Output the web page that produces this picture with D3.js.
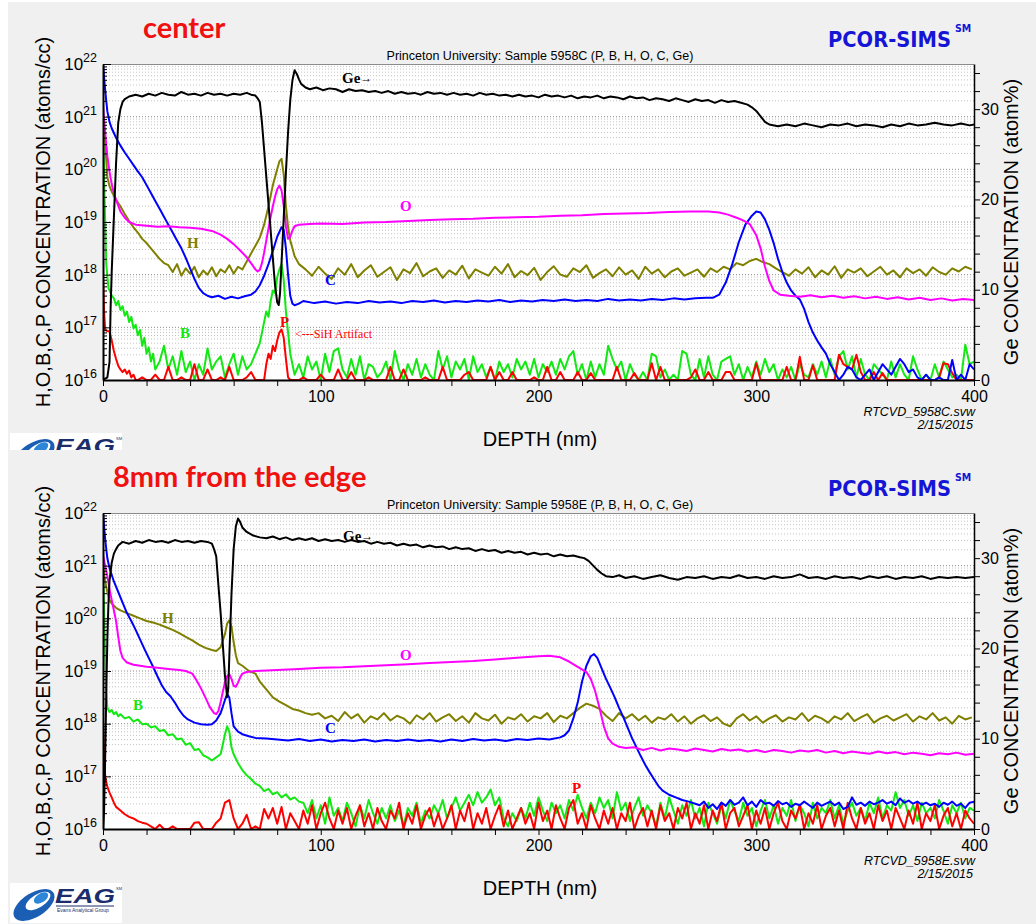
<!DOCTYPE html>
<html>
<head>
<meta charset="utf-8">
<title>sims-depth-profiles</title>
<style>
  * { margin: 0; padding: 0; }
  body { background: #fff; width: 1036px; height: 924px; overflow: hidden; }
  svg { display: block; font-family: "Liberation Sans", Arial, sans-serif; }
</style>
</head>
<body>
<svg id="svg" width="1036" height="924"></svg>
<script src="https://cdnjs.cloudflare.com/ajax/libs/d3/7.8.5/d3.min.js"></script>
<script>
// concentrations are log10(atoms/cc), Ge is atom %, depth in nm

// ---- center, sample 5958C ----
const centerGe = [[0,0],[2,0.3],[3,2],[3.5,8],[4,12],[5,18],[6,24],[7,28.5],[8,30],[9,30.8],[10,31.1],[12,31.4],[15,31.6],[18,31.4],[21,31.7],[24,31.5],[27,31.8],[30,31.6],[33,31.5],[36,31.9],[39,31.6],[42,31.7],[45,31.5],[48,31.8],[51,31.6],[54,31.7],[57,31.5],[60,31.7],[63,31.6],[66,31.8],[68,31.6],[70,31.5],[71,31.2],[72,30.8],[73,28.5],[74,25.5],[75,22.5],[76,19.5],[77,16.5],[78,13.5],[79,10.5],[80,8.6],[80.7,8.3],[81.3,9.6],[82,13],[83,18],[84,23],[85,27.5],[86,31],[87,33.2],[88,34.3],[89,33.9],[90,33.3],[91,32.8],[93,32.4],[95,32.2],[98,32.4],[101,32.1],[104,32.3],[107,32.2],[110,31.9],[113,32.2],[116,32.0],[119,32.1],[122,31.9],[125,32.0],[128,31.8],[131,32.0],[134,31.7],[137,31.9],[140,31.7],[143,31.8],[146,31.6],[149,31.9],[152,31.7],[155,31.8],[158,31.6],[161,31.8],[164,31.6],[167,31.7],[170,31.5],[173,31.8],[176,31.6],[179,31.7],[182,31.5],[185,31.6],[188,31.4],[191,31.6],[194,31.4],[197,31.5],[200,31.3],[203,31.6],[206,31.4],[209,31.5],[212,31.3],[215,31.5],[218,31.2],[221,31.4],[224,31.3],[227,31.5],[230,31.2],[233,31.4],[236,31.3],[239,31.1],[242,31.4],[245,31.2],[248,31.3],[251,31.0],[254,31.2],[257,31.1],[260,30.9],[263,31.2],[266,31.0],[269,30.8],[272,31.1],[275,30.9],[278,31.0],[281,30.7],[284,31.0],[287,30.8],[290,30.9],[293,30.7],[296,30.5],[298,30.2],[300,29.8],[302,29.2],[304,28.6],[306,28.3],[310,28.1],[314,28.3],[318,28.1],[322,28.4],[326,28.2],[330,28.0],[334,28.3],[338,28.2],[342,28.4],[346,28.1],[350,28.3],[354,28.2],[358,28.0],[362,28.3],[366,28.1],[370,28.4],[374,28.2],[378,28.3],[382,28.5],[386,28.3],[390,28.2],[394,28.4],[398,28.2],[400,28.3]];

const centerO = [[0,21.2],[1,20.7],[2,20.25],[3,19.95],[4,19.72],[5,19.55],[6,19.42],[8,19.2],[10,19.08],[12,19.0],[15,18.95],[20,18.93],[25,18.91],[30,18.92],[35,18.9],[40,18.89],[45,18.87],[50,18.83],[54,18.76],[57,18.68],[60,18.58],[63,18.46],[66,18.33],[68,18.22],[70,18.1],[71,18.06],[72,18.09],[73,18.22],[74,18.42],[75,18.65],[76,18.88],[77,19.1],[78,19.3],[79,19.48],[80,19.62],[81,19.69],[82,19.6],[83,19.3],[84,18.92],[85,18.68],[86,18.72],[87,18.84],[88,18.92],[90,18.95],[95,18.96],[100,18.97],[110,18.96],[120,18.99],[130,19.0],[140,19.02],[150,19.04],[160,19.05],[170,19.06],[180,19.08],[190,19.09],[200,19.1],[210,19.12],[220,19.13],[230,19.15],[240,19.16],[250,19.17],[260,19.19],[270,19.2],[278,19.2],[283,19.18],[287,19.14],[291,19.08],[294,19.03],[297,18.96],[300,18.75],[302,18.5],[304,18.15],[306,17.88],[308,17.7],[311,17.62],[315,17.6],[320,17.58],[325,17.61],[330,17.57],[335,17.6],[340,17.56],[345,17.59],[350,17.55],[355,17.58],[360,17.54],[365,17.57],[370,17.53],[375,17.56],[380,17.52],[385,17.55],[390,17.51],[395,17.54],[400,17.52]];

const centerHShape = [[0,21.0],[1,20.5],[2,19.85],[3,19.68],[4,19.58],[5,19.5],[6,19.42],[8,19.3],[10,19.15],[12,19.02],[14,18.9],[16,18.8],[18,18.68],[20,18.6],[22,18.5],[24,18.4],[26,18.3],[28,18.22],[30,18.18],[32,18.05],[34,18.2],[36,17.98],[38,18.12],[40,18.02],[42,18.15],[44,17.95],[46,18.08],[48,18.0],[50,18.14],[52,17.97],[54,18.1],[56,18.04],[58,18.18],[60,18.02],[62,18.15],[64,18.1],[66,18.25],[68,18.4],[70,18.55],[72,18.7],[74,18.95],[76,19.3],[78,19.7],[80,20.0],[81,20.15],[82,20.2],[83,19.9],[84,19.3],[85,18.9],[86,18.65],[87,18.5],[88,18.35],[90,18.2]];
// from 93 nm, every 3 nm
const centerHNoise = [18.1,17.98,18.15,18.02,17.92,18.12,18.0,18.2,17.95,18.08, 18.18,17.96,18.05,18.14,17.9,18.1,18.03,18.22,17.97,18.06, 18.12,17.94,18.08,18.0,18.17,17.93,18.1,18.04,17.98,18.15, 18.02,18.2,17.95,18.07,17.99,18.13,17.9,18.05,18.16,18.0, 17.96,18.12,18.05,18.18,17.94,18.03,18.1,17.97,18.14,18.0, 18.08,17.92,18.15,18.02,18.1,17.95,18.06,18.12,17.98,18.04, 18.1,17.96,18.12,18.05,18.15,18.1,18.22,18.18,18.26,18.3, 18.24,18.2,18.12,18.05,17.98,18.1,18.02,18.14,17.95,18.08, 18.0,18.16,17.94,18.1,18.04,18.12,17.97,18.06,18.15,18.0, 18.08,17.95,18.12,18.03,18.1,17.98,18.14,18.05,18.0,18.12, 18.06,18.15,18.1];

const centerCShape = [[0,22.0],[1,21.5],[2,21.1],[3,20.9],[4,20.78],[6,20.6],[8,20.45],[10,20.32],[12,20.2],[14,20.08],[16,19.96],[18,19.85],[20,19.7],[22,19.55],[24,19.4],[26,19.25],[28,19.1],[30,18.95],[32,18.8],[34,18.65],[36,18.5],[38,18.32],[40,18.12],[42,17.92],[44,17.75],[46,17.65],[48,17.6],[50,17.57],[53,17.6],[56,17.54],[59,17.58],[62,17.55],[65,17.59],[68,17.62],[70,17.68],[72,17.8],[74,17.98],[76,18.2],[78,18.45],[80,18.72],[82,18.9],[83,18.85],[84,18.5],[85,18.0],[86,17.6],[87,17.45],[88,17.42],[90,17.45]];
// from 92 nm, every 5 nm
const centerCMid = [17.5,17.46,17.49,17.45,17.48,17.46,17.5,17.47,17.49,17.46,17.5,17.48,17.51,17.47,17.5,17.48,17.51,17.49,17.52,17.48,17.51,17.49,17.52,17.5,17.53,17.5,17.52,17.5,17.54,17.51,17.53,17.51,17.54,17.52,17.55,17.53,17.55,17.56];
const centerCPeak = [[280,17.56],[283,17.62],[286,17.85],[289,18.2],[292,18.62],[295,18.95],[298,19.12],[300,19.2],[302,19.18],[304,19.05],[306,18.85],[308,18.6],[310,18.3],[312,18.05],[314,17.85],[316,17.7],[318,17.6],[320,17.53],[322,17.35],[324,17.1],[326,16.9],[328,16.75],[330,16.62],[332,16.5],[334,16.3],[336,16.15]];
// from 338 nm, every 2 nm
const centerCTail = [16.0,16.1,16.25,16.2,16.05,16.0,16.1,16.2,16.0,16.15,16.3,16.2,16.1,16.25,16.4,16.3,16.15,16.2,16.05,16.0,16.1,16.0,16.0,16.05,16.0,16.0,16.38,16.0,16.1,16.0,16.3,16.2];

const centerBShape = [[0,21.0],[0.7,19.5],[1.5,18.2],[2.5,17.75],[4,17.6],[5,17.55],[6,17.42],[7,17.5],[8,17.33],[9,17.4],[10,17.22],[11,17.3],[12,17.1],[13,17.2],[14,16.98],[15,17.05],[16,16.85],[17,16.95],[18,16.65],[19,16.8],[20,16.5],[21,16.62],[22,16.35],[23,16.5],[24,16.2]];
// from 26 nm, every 2 nm
const centerBNoise1 = [16.35,16.65,16.2,16.45,16.1,16.55,16.15,16.35,16.0,16.3,16.1,16.6,16.2,16.35,16.45,16.05,16.3,16.5,16.1,16.45,16.2,16.3,16.5,16.7];
const centerBBump = [[73,16.9],[74,17.1],[75,17.3],[76,17.2],[77,17.5],[78,17.7],[79,17.65],[80,17.95],[81,18.1],[82,18.2],[83,17.9],[84,17.3],[85,16.9],[86,16.5],[87,16.3]];
// from 88 nm, every 2 nm
const centerBNoise2 = [16.1,16.3,16.05,16.45,16.2,16.35,16.0,16.5,16.15,16.55, 16.6,16.2,16.05,16.4,16.1,16.45,16.0,16.3,16.25,16.05, 16.15,16.35,16.0,16.55,16.2,16.0,16.3,16.1,16.4,16.05, 16.3,16.1,16.0,16.55,16.2,16.45,16.05,16.35,16.2,16.4, 16.0,16.45,16.15,16.3,16.05,16.25,16.0,16.35,16.15,16.3, 16.05,16.4,16.2,16.35,16.1,16.4,16.05,16.3,16.15,16.35, 16.1,16.4,16.2,16.45,16.55,16.1,16.3,16.0,16.35,16.05, 16.3,16.1,16.65,16.4,16.2,16.35,16.0,16.3,16.1,16.0, 16.15,16.0,16.5,16.45,16.05,16.2,16.0,16.1,16.0,16.55, 16.5,16.1,16.0,16.4,16.05,16.45,16.1,16.0,16.35,16.4, 16.45,16.1,16.3,16.0,16.25,16.05,16.35,16.1,16.4,16.15, 16.3,16.0,16.2,16.05,16.25,16.0,16.3,16.1,16.05,16.3, 16.1,16.35,16.05,16.4,16.1,16.45,16.55,16.2,16.45,16.05, 16.4,16.1,16.0,16.3,16.2,16.1,16.0,16.35,16.05,16.3, 16.1,16.0,16.45,16.2,16.0,16.1,16.0,16.3,16.05,16.35, 16.2,16.05,16.1,16.0,16.67,16.3,16.35];

const centerPShape = [[0,17.95],[0.5,17.3],[1,16.95],[2,16.93],[3,16.92],[4,16.75],[5,16.55],[6,16.4],[7,16.27],[8,16.2],[9,16.15],[10,16.2],[11,16.12],[12,16.18],[13,16.05],[14,16.1],[15,16.0]];
// from 16 nm, every 2 nm
const centerPNoise1 = [16.0,16.05,16.0,16.0,16.1,16.0,16.0,16.25,16.0,16.0,16.05,16.0,16.0,16.3,16.0,16.0,16.2,16.0,16.0,16.05,16.0,16.25,16.0,16.0,16.0,16.05,16.15,16.0,16.0,16.0];
const centerPPeak = [[75,16.3],[76,16.5],[77,16.4],[78,16.65],[79,16.55],[80,16.75],[81,16.9],[82,16.96],[83,16.8],[84,16.4],[85,16.05],[86,16.0]];
// from 88 nm, every 2 nm
const centerPNoise2 = [16.0,16.0,16.05,16.0,16.0,16.0,16.1,16.0,16.0,16.0, 16.2,16.0,16.0,16.15,16.0,16.0,16.0,16.05,16.0,16.0, 16.0,16.0,16.25,16.0,16.0,16.2,16.0,16.0,16.0,16.0, 16.05,16.0,16.0,16.0,16.25,16.0,16.0,16.0,16.0,16.1, 16.15,16.0,16.0,16.0,16.0,16.25,16.0,16.15,16.0,16.0, 16.15,16.0,16.0,16.0,16.0,16.05,16.0,16.0,16.25,16.0, 16.0,16.15,16.0,16.0,16.0,16.15,16.0,16.0,16.13,16.0, 16.0,16.0,16.0,16.0,16.25,16.0,16.0,16.0,16.13,16.0, 16.0,16.0,16.32,16.0,16.25,16.0,16.0,16.0,16.0,16.0, 16.0,16.05,16.2,16.0,16.0,16.15,16.0,16.0,16.0,16.15, 16.15,16.0,16.0,16.0,16.0,16.0,16.32,16.0,16.0,16.0, 16.0,16.0,16.0,16.25,16.0,16.0,16.44,16.0,16.0,16.28, 16.0,16.0,16.0,16.0,16.0,16.48,16.3,16.25,16.2,16.48, 16.15,16.0,16.0,16.15,16.0,16.13,16.0,16.0,16.0,16.0, 16.0,16.0,16.0,16.0,16.0,16.0,16.0,16.0,16.05,16.32, 16.3,16.13,16.0,16.0,16.0,16.0,16.0];

// ---- 8mm from the edge, sample 5958E ----
const edgeGeShape = [[0,0],[0.5,2],[1,8],[1.5,15],[2,21],[2.5,25],[3,27.5],[4,29.5],[5,30.5],[6,31.0],[7,31.4],[9,31.8],[12,31.6],[15,31.9],[18,31.7],[21,32.0],[24,31.8],[27,31.9],[30,31.7],[33,32.0],[36,31.8],[39,31.9],[42,31.7],[45,31.9],[48,31.8],[50,31.6],[51,31.0],[52,30.2],[53,27],[54,24],[55,20.5],[56,17],[57,14.6],[57.5,15.5],[58,19],[59,26],[60,31],[61,33.5],[62,34.4],[63,34.0],[64,33.4],[66,32.9],[69,32.5],[72,32.3],[75,32.2],[78,32.4],[81,32.1],[84,32.3],[87,32.0],[90,32.2],[93,32.0],[96,32.2],[99,31.9],[102,32.1],[105,31.9],[108,32.0],[111,31.8],[114,32.0],[117,31.8],[120,31.9],[123,31.6],[126,31.8],[129,31.6],[132,31.7],[135,31.4],[138,31.6],[141,31.4],[144,31.5],[147,31.2],[150,31.4],[153,31.2],[156,31.3],[159,31.0],[162,31.2],[165,31.0],[168,31.1],[171,30.8],[174,31.0],[177,30.8],[180,30.9],[183,30.6],[186,30.8],[189,30.6],[192,30.7],[195,30.4],[198,30.6],[201,30.4],[204,30.5],[207,30.2],[210,30.4],[213,30.2],[216,30.3],[219,30.1],[221,30.0],[223,29.7],[225,29.2],[227,28.7],[229,28.3],[231,28.0],[234,27.9],[237,28.1]];
// from 240 nm, every 4 nm
const edgeGeTail = [27.8,28.0,27.7,27.9,28.1,27.8,27.6,27.9,27.8,28.0,27.7,27.9,27.8,28.1,27.8,27.9,27.7,28.0,27.8,27.9,28.2,27.8,27.9,27.7,28.0,27.8,27.9,27.7,28.0,27.8,28.0,27.7,27.9,27.8,28.0,27.7,27.9,27.8,27.9,27.8,27.9];

const edgeOShape = [[0,21.2],[1,21.0],[2,20.8],[3,20.55],[4,20.35],[5,20.15],[6,19.95],[7,19.65],[8,19.38],[9,19.25],[11,19.16],[14,19.12],[17,19.1],[20,19.08],[25,19.06],[30,19.04],[35,19.02],[38,19.0],[41,18.95],[43,18.82],[45,18.67],[47,18.5],[49,18.32],[51,18.2],[52,18.18],[53,18.24],[54,18.4],[55,18.6],[56,18.78],[57,18.9],[58,18.94],[59,18.85],[60,18.72],[61,18.7],[62,18.78],[63,18.88],[64,18.95],[66,18.98],[70,19.0],[80,19.02],[90,19.04],[100,19.06],[110,19.07],[120,19.09],[130,19.11],[140,19.13],[150,19.15],[160,19.17],[170,19.19],[180,19.22],[190,19.25],[200,19.28],[205,19.29],[210,19.26],[214,19.18],[218,19.08],[222,18.98],[224,18.85],[226,18.62],[228,18.3],[230,17.95],[232,17.72],[234,17.62],[237,17.56],[240,17.54]];
// from 244 nm, every 4 nm
const edgeOTail = [17.55,17.5,17.54,17.49,17.53,17.51,17.48,17.53,17.5,17.47,17.52,17.49,17.51,17.47,17.5,17.46,17.5,17.48,17.45,17.49,17.47,17.5,17.45,17.48,17.44,17.47,17.45,17.43,17.47,17.44,17.46,17.42,17.45,17.43,17.4,17.44,17.42,17.45,17.41,17.43];

const edgeHShape = [[0,21.0],[1,20.7],[2,20.5],[3,20.35],[4,20.28],[6,20.2],[8,20.15],[11,20.1],[14,20.05],[17,20.0],[20,19.95],[23,19.92],[26,19.88],[29,19.83],[32,19.78],[35,19.72],[38,19.65],[41,19.58],[44,19.5],[47,19.44],[50,19.4],[52,19.38],[54,19.45],[56,19.7],[57,19.9],[58,19.96],[59,19.85],[60,19.55],[61,19.3],[62,19.15],[64,19.1],[67,19.0],[70,18.95],[72,18.8],[75,18.65],[78,18.5],[81,18.42],[84,18.35],[87,18.28],[90,18.25],[93,18.2],[96,18.17]];
// from 99 nm, every 3 nm
const edgeHNoise = [18.2,18.1,18.15,18.05,18.22,18.1,18.18,18.02,18.14,18.08, 18.2,18.06,18.15,18.1,18.0,18.16,18.08,18.2,18.04,18.12, 18.18,18.05,18.14,18.02,18.2,18.1,18.06,18.17,18.0,18.12, 18.08,18.18,18.04,18.14,18.1,18.2,18.03,18.15,18.1,18.2, 18.3,18.38,18.34,18.28,18.15,18.05,18.2,18.1,18.18,18.06, 18.15,18.02,18.12,18.08,18.18,18.04,18.14,18.0,18.1,18.16, 18.05,18.12,18.0,17.95,18.1,18.18,18.06,18.14,18.02,18.1, 18.16,18.04,18.12,18.08,18.2,18.05,18.15,18.1,18.02,18.14, 18.08,18.2,18.05,18.12,18.18,18.02,18.1,18.15,18.06,18.12, 18.18,18.04,18.14,18.08,18.2,18.06,18.12,18.0,18.15,18.08, 18.12];

const edgeCShape = [[0,22.0],[1,21.5],[2,21.14],[3,20.95],[5,20.7],[7,20.5],[9,20.3],[11,20.1],[13,19.95],[15,19.78],[17,19.6],[19,19.42],[21,19.25],[23,19.08],[25,18.9],[27,18.73],[29,18.6],[31,18.52],[33,18.4],[35,18.26],[37,18.15],[39,18.08],[42,18.02],[45,17.99],[48,17.98],[50,17.99],[52,18.06],[54,18.2],[55,18.32],[56,18.45],[57,18.56],[58,18.5],[59,18.2],[60,17.95],[62,17.85],[64,17.8],[67,17.76],[70,17.73],[75,17.72]];
// from 80 nm, every 5 nm
const edgeCMid = [17.7,17.68,17.71,17.67,17.7,17.66,17.69,17.67,17.7,17.66,17.69,17.67,17.7,17.67,17.69,17.66,17.7,17.67,17.71,17.68,17.7,17.67,17.71,17.69,17.72,17.7,17.74];
const edgeCPeak = [[212,17.78],[214,17.87],[216,18.1],[218,18.4],[220,18.8],[222,19.1],[224,19.28],[225.5,19.32],[227,19.25],[229,19.05],[231,18.85],[233,18.68],[235,18.5],[237,18.3],[239,18.12],[241,17.92],[243,17.72],[245,17.55],[247,17.38],[249,17.22],[251,17.08],[253,16.95],[255,16.82],[257,16.73],[260,16.65],[263,16.6],[266,16.55],[269,16.52]];
// from 272 nm, every 2 nm
const edgeCTail = [16.48,16.45,16.52,16.4,16.47,16.38,16.5,16.44,16.55,16.46, 16.5,16.6,16.45,16.52,16.42,16.55,16.48,16.5,16.44,16.53, 16.47,16.5,16.42,16.48,16.45,16.52,16.46,16.4,16.5,16.44, 16.48,16.52,16.45,16.5,16.38,16.42,16.6,16.46,16.5,16.44, 16.52,16.47,16.5,16.55,16.48,16.52,16.45,16.58,16.5,16.54, 16.48,16.52,16.46,16.5,16.45,16.48,16.42,16.5,16.46,16.52, 16.44,16.48,16.4,16.5,16.52];

const edgeBShape = [[0,21.0],[0.7,19.8],[1.5,18.6],[2,18.3],[3,18.22],[4,18.26],[5,18.18],[6,18.22],[7,18.14],[8,18.18],[10,18.1],[12,18.13],[14,18.04],[16,18.08],[18,17.99],[20,18.0],[22,17.93],[24,17.95],[26,17.86],[28,17.88],[30,17.78],[32,17.8],[34,17.7],[36,17.72],[38,17.6],[40,17.63],[42,17.5],[44,17.52],[46,17.4],[48,17.36],[50,17.3],[52,17.36],[54,17.42],[55,17.6],[56,17.8],[57,17.95],[58,17.85],[59,17.55],[60,17.42],[62,17.25],[64,17.12],[66,17.02],[68,16.95],[70,16.86],[72,16.82],[74,16.72],[76,16.76],[78,16.66],[80,16.7],[82,16.6],[84,16.66],[86,16.56],[88,16.6],[90,16.52]];
// from 92 nm, every 2 nm
const edgeBNoise = [16.5,16.3,16.55,16.2,16.45,16.1,16.6,16.25,16.4,16.15, 16.5,16.3,16.05,16.45,16.2,16.55,16.3,16.1,16.4,16.2, 16.45,16.15,16.35,16.05,16.4,16.25,16.5,16.1,16.35,16.2, 16.45,16.3,16.55,16.2,16.4,16.6,16.35,16.5,16.65,16.45, 16.7,16.5,16.6,16.75,16.45,16.6,16.2,16.05,16.3,16.15, 16.4,16.2,16.5,16.25,16.6,16.35,16.15,16.5,16.3,16.45, 16.2,16.55,16.35,16.65,16.4,16.2,16.5,16.3,16.6,16.4, 16.55,16.2,16.7,16.35,16.5,16.15,16.4,16.6,16.25,16.45, 16.3,16.05,16.5,16.2,16.6,16.35,16.1,16.45,16.25,16.55, 16.2,16.4,16.05,16.5,16.3,16.1,16.45,16.2,16.55,16.35, 16.15,16.5,16.25,16.4,16.05,16.35,16.55,16.2,16.45,16.1, 16.4,16.25,16.55,16.15,16.45,16.3,16.05,16.5,16.2,16.4, 16.3,16.55,16.2,16.45,16.1,16.35,16.5,16.25,16.4,16.15, 16.5,16.3,16.6,16.2,16.45,16.35,16.7,16.4,16.55,16.25, 16.45,16.15,16.5,16.3,16.4,16.2,16.55,16.35,16.1,16.45, 16.3,16.5,16.2,16.4,16.35];

const edgePShape = [[0,17.95],[0.5,17.4],[1,17.0],[2,16.8],[3,16.69],[4,16.6],[5,16.5],[6,16.42],[8,16.35],[10,16.28],[12,16.23],[14,16.2],[16,16.15],[18,16.12],[20,16.1]];
// from 22 nm, every 2 nm
const edgePNoise = [16.05,16.0,16.08,16.0,16.0,16.05,16.0,16.0,16.0,16.0, 16.12,16.13,16.0,16.0,16.0,16.12,16.2,16.5,16.55,16.2, 16.0,16.1,16.27,16.0,16.05,16.0,16.38,16.2,16.4,16.1, 16.42,16.0,16.3,16.15,16.0,16.35,16.1,16.45,16.0,16.3, 16.5,16.2,16.0,16.35,16.1,16.4,16.0,16.25,16.45,16.05, 16.3,16.0,16.4,16.15,16.0,16.35,16.2,16.5,16.0,16.3, 16.1,16.45,16.0,16.25,16.4,16.05,16.3,16.0,16.2,16.45, 16.0,16.35,16.15,16.5,16.0,16.3,16.1,16.4,16.0,16.25, 16.45,16.05,16.35,16.0,16.2,16.4,16.1,16.3,16.0,16.5, 16.15,16.35,16.0,16.45,16.2,16.0,16.4,16.55,16.1,16.3, 16.0,16.45,16.2,16.0,16.35,16.1,16.4,16.0,16.3,16.15, 16.5,16.0,16.25,16.4,16.05,16.35,16.0,16.45,16.15,16.3, 16.0,16.4,16.2,16.5,16.0,16.3,16.1,16.45,16.0,16.35, 16.15,16.5,16.0,16.3,16.4,16.05,16.25,16.45,16.0,16.35, 16.1,16.4,16.0,16.3,16.5,16.15,16.0,16.35,16.2,16.45, 16.0,16.3,16.1,16.45,16.0,16.25,16.4,16.05,16.35,16.0, 16.5,16.2,16.0,16.4,16.1,16.3,16.0,16.45,16.15,16.35, 16.0,16.4,16.2,16.0,16.35,16.1,16.5,16.0,16.3,16.15, 16.45,16.0,16.25,16.4,16.05,16.3,16.0,16.35,16.2,16.1];

const depthTicks = [0, 100, 200, 300, 400];
const geTicks = [0, 10, 20, 30];
const decades = [16, 17, 18, 19, 20, 21, 22];

// sampled values -> [depth, value]
const steps = (start, step, vals) => vals.map((v, i) => [start + i * step, v]);

const center = {
  Ge: centerGe,
  O: centerO,
  H: centerHShape.concat(steps(93, 3, centerHNoise)),
  C: centerCShape.concat(steps(92, 5, centerCMid), centerCPeak, steps(338, 2, centerCTail)),
  B: centerBShape.concat(steps(26, 2, centerBNoise1), centerBBump, steps(88, 2, centerBNoise2)),
  P: centerPShape.concat(steps(16, 2, centerPNoise1), centerPPeak, steps(88, 2, centerPNoise2))
};
const edge = {
  Ge: edgeGeShape.concat(steps(240, 4, edgeGeTail)),
  O: edgeOShape.concat(steps(244, 4, edgeOTail)),
  H: edgeHShape.concat(steps(99, 3, edgeHNoise)),
  C: edgeCShape.concat(steps(80, 5, edgeCMid), edgeCPeak, steps(272, 2, edgeCTail)),
  B: edgeBShape.concat(steps(92, 2, edgeBNoise)),
  P: edgePShape.concat(steps(22, 2, edgePNoise))
};

const colors = { B: '#12e812', P: '#ff0000', H: '#808000', C: '#0000ff', O: '#ff00ff', Ge: '#000000' };
const drawOrder = ['B', 'P', 'H', 'C', 'O'];

const panels = [
  {
    dy: 0, top: 64, bottom: 380, data: center,
    title: 'center', titleX: 143,
    sample: 'Princeton University: Sample 5958C (P, B, H, O, C, Ge)',
    file: 'RTCVD_5958C.svw',
    labels: [
      { t: 'O', k: 'O', x: 400, y: 211 }, { t: 'H', k: 'H', x: 187, y: 248 },
      { t: 'C', k: 'C', x: 325, y: 285 }, { t: 'B', k: 'B', x: 180, y: 338 },
      { t: 'P', k: 'P', x: 280, y: 327 }
    ],
    gePos: [342, 83], artifact: true
  },
  {
    dy: 449, top: 513, bottom: 829, data: edge,
    title: '8mm from the edge', titleX: 113,
    sample: 'Princeton University: Sample 5958E (P, B, H, O, C, Ge)',
    file: 'RTCVD_5958E.svw',
    labels: [
      { t: 'O', k: 'O', x: 400, y: 211 }, { t: 'H', k: 'H', x: 162, y: 174 },
      { t: 'C', k: 'C', x: 325, y: 284 }, { t: 'B', k: 'B', x: 133, y: 261 },
      { t: 'P', k: 'P', x: 572, y: 344 }
    ],
    gePos: [343, 92], artifact: false
  }
];

const svg = d3.select('#svg');
svg.append('rect').attr('width', 1036).attr('height', 924).attr('fill', '#fff');
svg.append('rect').attr('x', 8).attr('y', 2).attr('width', 1028).attr('height', 922).attr('fill', '#f0f0f0');

const X0 = 103, X1 = 974;
const x = d3.scaleLinear().domain([0, 400]).range([X0, X1]);

const minorT = [], majorT = [];
decades.forEach(e => {
  majorT.push(10 ** e);
  if (e < 22) for (let m = 2; m < 10; m++) minorT.push(m * 10 ** e);
});

function drawLogo(g, lx, ly) {
  const lg = g.append('g').attr('transform', `translate(${lx},${ly})`);
  lg.append('rect').attr('width', 112).attr('height', 40).attr('fill', '#fff');
  lg.append('ellipse').attr('cx', 24).attr('cy', 22).attr('rx', 23).attr('ry', 12)
    .attr('transform', 'rotate(-32 24 22)').attr('fill', '#1a5fb4');
  lg.append('ellipse').attr('cx', 28).attr('cy', 18).attr('rx', 14).attr('ry', 6.5)
    .attr('transform', 'rotate(-32 28 18)').attr('fill', '#fff');
  lg.append('ellipse').attr('cx', 31).attr('cy', 15).attr('rx', 8).attr('ry', 4.5)
    .attr('transform', 'rotate(-32 31 15)').attr('fill', '#2d86d8');
  lg.append('text').attr('x', 45).attr('y', 20).attr('font-size', 20).attr('font-weight', 'bold')
    .attr('font-style', 'italic').attr('fill', '#1c2d6b').attr('textLength', 60)
    .attr('lengthAdjust', 'spacingAndGlyphs').text('EAG');
  lg.append('text').attr('x', 106).attr('y', 7).attr('font-size', 4).attr('fill', '#1c2d6b').text('SM');
  lg.append('line').attr('x1', 46).attr('x2', 104).attr('y1', 23).attr('y2', 23)
    .attr('stroke', '#1c2d6b').attr('stroke-width', 1);
  lg.append('text').attr('x', 47).attr('y', 29).attr('font-size', 5).attr('fill', '#1c2d6b')
    .text('Evans Analytical Group');
}

panels.forEach((p, i) => {
  const g = svg.append('g');
  const dy = p.dy;
  const y = d3.scaleLog().domain([1e16, 1e22]).range([p.bottom, p.top]);
  const yGe = d3.scaleLinear().domain([0, 35]).range([p.bottom, p.top]);

  // plot area and dotted grid
  g.append('rect').attr('x', X0).attr('y', p.top).attr('width', X1 - X0).attr('height', p.bottom - p.top).attr('fill', '#fff');
  g.append('g').selectAll('line').data(minorT).join('line')
    .attr('x1', X0).attr('x2', X1).attr('y1', d => y(d)).attr('y2', d => y(d))
    .attr('stroke', '#c4c4c4').attr('stroke-dasharray', '1 2');
  g.append('g').selectAll('line').data(majorT.slice(1, -1)).join('line')
    .attr('x1', X0).attr('x2', X1).attr('y1', d => y(d)).attr('y2', d => y(d))
    .attr('stroke', '#8c8c8c').attr('stroke-dasharray', '1 2');

  // curves
  const clipId = 'clip' + i;
  g.append('clipPath').attr('id', clipId).append('rect')
    .attr('x', X0).attr('y', p.top).attr('width', X1 - X0).attr('height', p.bottom - p.top);
  const curves = g.append('g').attr('clip-path', `url(#${clipId})`);
  const line = d3.line().x(d => x(d[0])).y(d => y(10 ** d[1]));
  const geLine = d3.line().x(d => x(d[0])).y(d => yGe(d[1]));
  drawOrder.forEach(k => {
    curves.append('path').datum(p.data[k]).attr('d', line)
      .attr('fill', 'none').attr('stroke', colors[k]).attr('stroke-width', 2).attr('stroke-linejoin', 'round');
  });
  curves.append('path').datum(p.data.Ge).attr('d', geLine)
    .attr('fill', 'none').attr('stroke', colors.Ge).attr('stroke-width', 2).attr('stroke-linejoin', 'round');

  // frame and axes
  g.append('line').attr('x1', X0).attr('x2', X1).attr('y1', p.top + 0.5).attr('y2', p.top + 0.5)
    .attr('stroke', '#8a8a8a');
  g.append('g').attr('transform', `translate(${X0},0)`)
    .call(d3.axisLeft(y).tickValues(minorT).tickSize(-4).tickSizeOuter(0).tickFormat(''))
    .call(a => a.select('.domain').remove());
  g.append('g').attr('transform', `translate(${X0},0)`)
    .call(d3.axisLeft(y).tickValues(majorT).tickSize(-8).tickSizeOuter(0).tickFormat(''))
    .call(a => a.select('.domain').attr('stroke-width', 2));

  const ra = g.append('g').attr('transform', `translate(${X1},0)`)
    .call(d3.axisRight(yGe).tickValues(d3.range(0, 35, 2)).tickSize(6).tickSizeOuter(0).tickPadding(1)
      .tickFormat(d => geTicks.includes(d) ? d : ''));
  ra.select('.domain').attr('stroke-width', 1.5);
  ra.selectAll('text').attr('font-size', 16).attr('font-family', '"Liberation Sans", Arial, sans-serif');

  const ba = g.append('g').attr('transform', `translate(0,${p.bottom})`)
    .call(d3.axisBottom(x).tickValues(d3.range(0, 401, 20)).tickSize(6).tickSizeOuter(0).tickPadding(5)
      .tickFormat(d => depthTicks.includes(d) ? d : ''));
  ba.select('.domain').attr('stroke-width', 2);
  ba.selectAll('text').attr('font-size', 16).attr('font-family', '"Liberation Sans", Arial, sans-serif');

  // decade labels 10^n
  const dl = g.append('g').selectAll('text').data(decades).join('text')
    .attr('x', 97).attr('y', e => y(10 ** e) + 6).attr('text-anchor', 'end').attr('fill', '#000');
  dl.append('tspan').attr('font-size', 17).text('10');
  dl.append('tspan').attr('font-size', 12.5).attr('dy', -8).text(e => e);

  // axis titles
  g.append('text').attr('transform', `translate(50,${222 + dy}) rotate(-90)`)
    .attr('text-anchor', 'middle').attr('font-size', 20).text('H,O,B,C,P CONCENTRATION (atoms/cc)');
  g.append('text').attr('transform', `translate(1018,${222 + dy}) rotate(-90)`)
    .attr('text-anchor', 'middle').attr('font-size', 20).text('Ge CONCENTRATION (atom%)');
  g.append('text').attr('x', 540).attr('y', 446 + dy).attr('text-anchor', 'middle')
    .attr('font-size', 20).text('DEPTH (nm)');

  // headings
  g.append('text').attr('x', p.titleX).attr('y', 38 + dy).attr('font-family', 'Lato, sans-serif')
    .attr('font-weight', 'bold').attr('font-size', 29).attr('fill', '#f01010').text(p.title);
  g.append('text').attr('x', 540).attr('y', 60 + dy).attr('text-anchor', 'middle')
    .attr('font-size', 12.5).text(p.sample);
  g.append('text').attr('x', 828).attr('y', 47 + dy).attr('font-family', '"DejaVu Sans Condensed", "DejaVu Sans", sans-serif')
    .attr('font-weight', 'bold').attr('font-size', 21).attr('fill', '#1515d5')
    .attr('textLength', 123).attr('lengthAdjust', 'spacingAndGlyphs').text('PCOR-SIMS');
  g.append('text').attr('x', 955).attr('y', 32 + dy).attr('font-family', '"DejaVu Sans Condensed", "DejaVu Sans", sans-serif')
    .attr('font-weight', 'bold').attr('font-size', 10.5).attr('fill', '#1515d5').text('SM');

  // file stamp (the date sits just under the file name, as in the print-out)
  g.append('text').attr('x', 975).attr('y', 416 + dy).attr('text-anchor', 'end').attr('font-style', 'italic')
    .attr('font-size', 12.5).text(p.file);
  g.append('text').attr('x', 973).attr('y', 429 + dy).attr('text-anchor', 'end').attr('font-style', 'italic')
    .attr('font-size', 12.5).text('2/15/2015');

  // series labels
  const serif = '"Liberation Serif", "Times New Roman", serif';
  p.labels.forEach(l => {
    g.append('text').attr('x', l.x).attr('y', l.y + dy).attr('font-family', serif).attr('font-weight', 'bold')
      .attr('font-size', 15).attr('fill', colors[l.k]).text(l.t);
  });
  const ge = g.append('text').attr('x', p.gePos[0]).attr('y', p.gePos[1] + dy).attr('font-family', serif)
    .attr('font-weight', 'bold').attr('font-size', 15).attr('fill', '#000');
  ge.append('tspan').text('Ge');
  ge.append('tspan').attr('font-size', 12).attr('dy', -1).text('\u2192');
  if (p.artifact) {
    g.append('text').attr('x', 295).attr('y', 338).attr('font-family', serif).attr('font-size', 12)
      .attr('fill', '#ff0000').text('<---SiH Artifact');
  }
});

// logos: the upper one is cut by the lower screenshot
svg.append('clipPath').attr('id', 'logoClip').append('rect').attr('x', 0).attr('y', 0).attr('width', 200).attr('height', 450);
drawLogo(svg.append('g').attr('clip-path', 'url(#logoClip)'), 10, 433);
drawLogo(svg.append('g'), 10, 883);
</script>
</body>
</html>
